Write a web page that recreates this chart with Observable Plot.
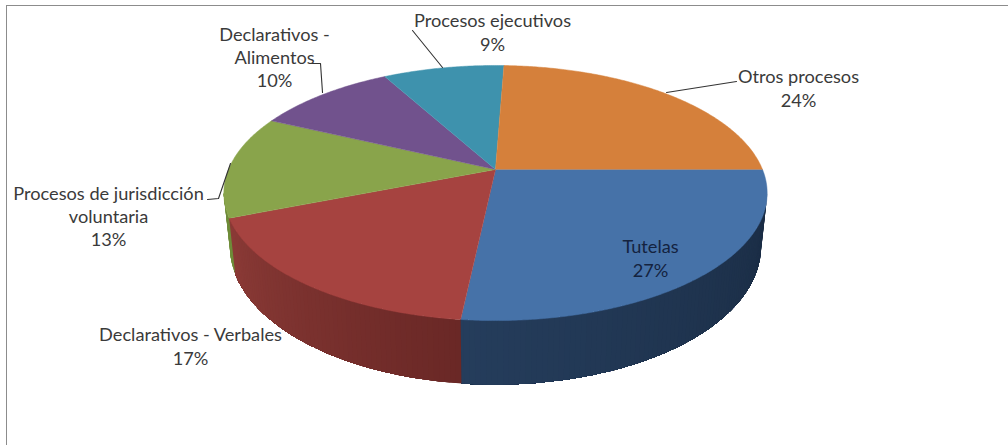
<!DOCTYPE html>
<html>
<head>
<meta charset="utf-8">
<script src="https://cdn.jsdelivr.net/npm/d3@7"></script>
<script src="https://cdn.jsdelivr.net/npm/@observablehq/plot@0.6"></script>
<style>
  html, body { margin: 0; padding: 0; background: #fff; overflow: hidden; }
  #chart { position: absolute; left: 0; top: 0; width: 1008px; height: 445px; }
  #frame { position: absolute; left: 6px; top: 5px; width: 1002px; height: 440px;
           border-left: 1.5px solid #8c8c8c; border-top: 1.5px solid #8c8c8c; box-sizing: border-box; }
  svg { display: block; background: transparent !important; }
</style>
</head>
<body>
<div id="frame"></div>
<div id="chart"></div>
<script>
// Data, in drawing order (clockwise from the right-hand edge)
const categories = ["Tutelas", "Declarativos - Verbales", "Procesos de jurisdicción voluntaria",
                    "Declarativos - Alimentos", "Procesos ejecutivos", "Otros procesos"];
const labelLines = ["Tutelas", "Declarativos - Verbales", "Procesos de jurisdicción\nvoluntaria",
                    "Declarativos -\nAlimentos", "Procesos ejecutivos", "Otros procesos"];
const shares = [26.7, 17.3, 13, 10, 8.6, 24.4];

// Styles
const topColors = ["#4672a8", "#a64340", "#89a44b", "#71528d", "#3e92ad", "#d5803b"];
const wallFrom  = ["#1a2c44", "#6a2826", "#6f8c3a", "#5b4272", "#326f85", "#a8642d"];
const wallTo    = ["#253d5c", "#8c3b37", "#6f8c3a", "#5b4272", "#326f85", "#a8642d"];
const textColors = ["#14233f", "#3a3a3a", "#3a3a3a", "#3a3a3a", "#3a3a3a", "#3a3a3a"];

// Layout: label centres and leader paths, in picture pixels
const labelX = [650, 190, 108, 274, 492, 798];
const labelY = [257, 345, 215, 56, 31, 87];
const leaders = [
  [[412, 30], [442, 67]],
  [[310, 63], [320, 63], [322, 92]],
  [[207, 199], [218, 198], [230, 163]],
  [[666, 92], [736, 81]]
];

// Perspective disc: top face and bottom face
const persp = 0.1844;
const project = (deg, cx, cy, a, b) => {
  const t = deg * Math.PI / 180, u = Math.cos(t), v = Math.sin(t), w = 1 - persp * v;
  return [cx + a * u / w, cy + b * v / w];
};
const topPt = (deg) => project(deg, 495, 169, 267, 123.2);
const botPt = (deg) => project(deg, 495, 220.6, 261, 133.3);

const total = d3.sum(shares);
let acc = 0;
const slices = shares.map((s, i) => {
  const a0 = acc / total * 360; acc += s;
  return {i, name: categories[i], a0, a1: acc / total * 360};
});

// Top faces
const topFaces = slices.flatMap((s) => {
  const pts = [{id: s.name, x: 495, y: 169, color: topColors[s.i]}];
  for (const d of d3.range(s.a0, s.a1, 0.5).concat(s.a1)) {
    const [x, y] = topPt(d);
    pts.push({id: s.name, x, y, color: topColors[s.i]});
  }
  return pts;
});

// Walls: only the part of the rim that faces the viewer. Each cell runs on to
// the end of its slice and the next one paints over it, so no seams show.
const rimStart = Math.asin(persp) * 180 / Math.PI, rimEnd = 180 - rimStart;
const wallCells = [];
for (const s of slices) {
  const lo = Math.max(s.a0, rimStart), hi = Math.min(s.a1, rimEnd);
  if (lo >= hi) continue;
  const mix = d3.interpolateRgb(wallFrom[s.i], wallTo[s.i]);
  d3.range(lo, hi, 1).forEach((d0, k) => {
    const color = mix((d0 - lo) / (hi - lo));
    const id = s.name + k;
    const arc = d3.range(d0, hi, 1).concat(hi);
    const rim = arc.map(topPt).concat(arc.slice().reverse().map(botPt));
    for (const [x, y] of rim) wallCells.push({id, x, y, color});
  });
}

const leaderRows = leaders.flatMap((path, k) => path.map(([x, y]) => ({id: k, x, y})));
const labels = slices.map((s) => ({
  text: labelLines[s.i] + "\n" + Math.round(shares[s.i]) + "%",
  x: labelX[s.i], y: labelY[s.i], color: textColors[s.i]
}));

const chart = Plot.plot({
  width: 1008, height: 445,
  margin: 0,
  style: {background: "transparent"},
  x: {domain: [0, 1008], range: [0, 1008], axis: null},
  y: {domain: [0, 445], range: [0, 445], axis: null},
  color: {type: "identity"},
  marks: [
    Plot.line(wallCells, {x: "x", y: "y", z: "id", fill: "color"}),
    Plot.line(topFaces, {x: "x", y: "y", z: "id", fill: "color", stroke: "color", strokeWidth: 0.5}),
    Plot.line(leaderRows, {x: "x", y: "y", z: "id", stroke: "#333", strokeWidth: 1.1}),
    Plot.text(labels, {
      x: "x", y: "y", text: "text", fill: "color",
      fontFamily: "Lato", fontSize: 18.2, lineHeight: 1.29
    })
  ]
});
document.getElementById("chart").appendChild(chart);
</script>
</body>
</html>
